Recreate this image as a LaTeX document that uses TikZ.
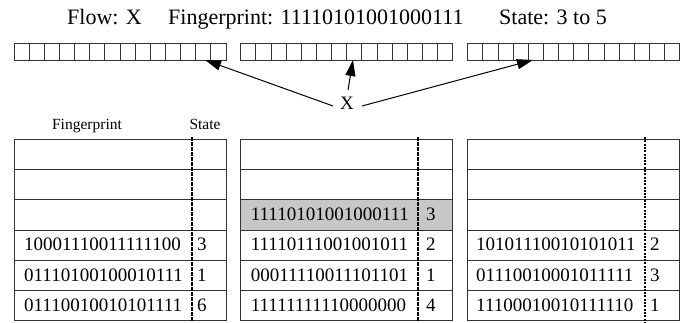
\documentclass[tikz,border=0pt]{standalone}
\usepackage{fontspec}
\setmainfont{Liberation Serif}
\usetikzlibrary{arrows.meta}
\begin{document}
\begin{tikzpicture}[x=1pt,y=-1pt,
  cellline/.style={draw=black!80, line width=1pt},
  tabline/.style={draw=black!80, line width=1pt},
  sepdash/.style={line width=1.8pt, dash pattern=on 3.5pt off 1.5pt},
  sepdots/.style={line width=2.2pt, dash pattern=on 2pt off 1.3pt},
  arr/.style={line width=1pt, -{Triangle[length=16pt,width=10pt]}},
  titletext/.style={font=\fontsize{22}{26}\selectfont, anchor=base west, inner sep=0pt},
  headtext/.style={font=\fontsize{15.5}{18}\selectfont, anchor=base, inner sep=0pt},
  bits/.style={font=\fontsize{19}{22}\selectfont, anchor=base west, inner sep=0pt},
  hit/.style={fill=black!22}
]
\useasboundingbox (0,0) rectangle (688,322);

% title
\node[titletext] (tflow) at (67,24) {Flow: X};
\node[titletext] (tfp) at (168,24) {Fingerprint: 11110101001000111};
\node[titletext] (tstate) at (499,24) {State: 3 to 5};

% bit arrays
\foreach \ax in {14,240.7,467.7}{
  \foreach \i in {0,...,13}{
    \draw[cellline] (\ax+\i*15.15,43) rectangle ++(15.15,17);
  }
}
\coordinate (tip1) at (205,60);
\coordinate (tip2) at (353,60);
\coordinate (tip3) at (533,60);

% X label and arrows
\node[font=\fontsize{19}{22}\selectfont, inner sep=0pt] (X) at (347,103) {X};
\coordinate (tail1) at (333,106);
\coordinate (tail2) at (348,90);
\coordinate (tail3) at (362,106);
\draw[arr] (tail1) -- (tip1);
\draw[arr] (tail2) -- (tip2);
\draw[arr] (tail3) -- (tip3);

% headers
\node[headtext] (hfp) at (87,129) {Fingerprint};
\node[headtext] (hst) at (205,129) {State};

% highlighted row in middle table
\fill[hit] (240.7,199.9) rectangle (452.7,230.1);

% tables
\foreach \tx in {14,240.7,467}{
  \draw[tabline] (\tx,139.5) rectangle (\tx+212,320.5);
  \foreach \k in {1,...,5}{
    \draw[tabline] (\tx,139.5+\k*30.2) -- (\tx+212,139.5+\k*30.2);
  }
}
\draw[sepdash] (191.7,137) -- (191.7,322);
\draw[sepdash] (418,137) -- (418,322);
\draw[sepdots] (645,137) -- (645,322);

% left table
\node[bits] (l4) at (24,250.9) {10001110011111100};
\node[bits] (l4s) at (197,250.9) {3};
\node[bits] (l5) at (24,281.1) {01110100100010111};
\node[bits] (l5s) at (197,281.1) {1};
\node[bits] (l6) at (24,311.3) {01110010010101111};
\node[bits] (l6s) at (197,311.3) {6};

% middle table
\node[bits] (m3) at (250.7,220.7) {11110101001000111};
\node[bits] (m3s) at (426,220.7) {3};
\node[bits] (m4) at (250.7,250.9) {11110111001001011};
\node[bits] (m4s) at (426,250.9) {2};
\node[bits] (m5) at (250.7,281.1) {00011110011101101};
\node[bits] (m5s) at (426,281.1) {1};
\node[bits] (m6) at (250.7,311.3) {11111111110000000};
\node[bits] (m6s) at (426,311.3) {4};

% right table
\node[bits] (r4) at (476,250.9) {10101110010101011};
\node[bits] (r4s) at (650,250.9) {2};
\node[bits] (r5) at (476,281.1) {01110010001011111};
\node[bits] (r5s) at (650,281.1) {3};
\node[bits] (r6) at (476,311.3) {11100010010111110};
\node[bits] (r6s) at (650,311.3) {1};
\end{tikzpicture}
\end{document}
